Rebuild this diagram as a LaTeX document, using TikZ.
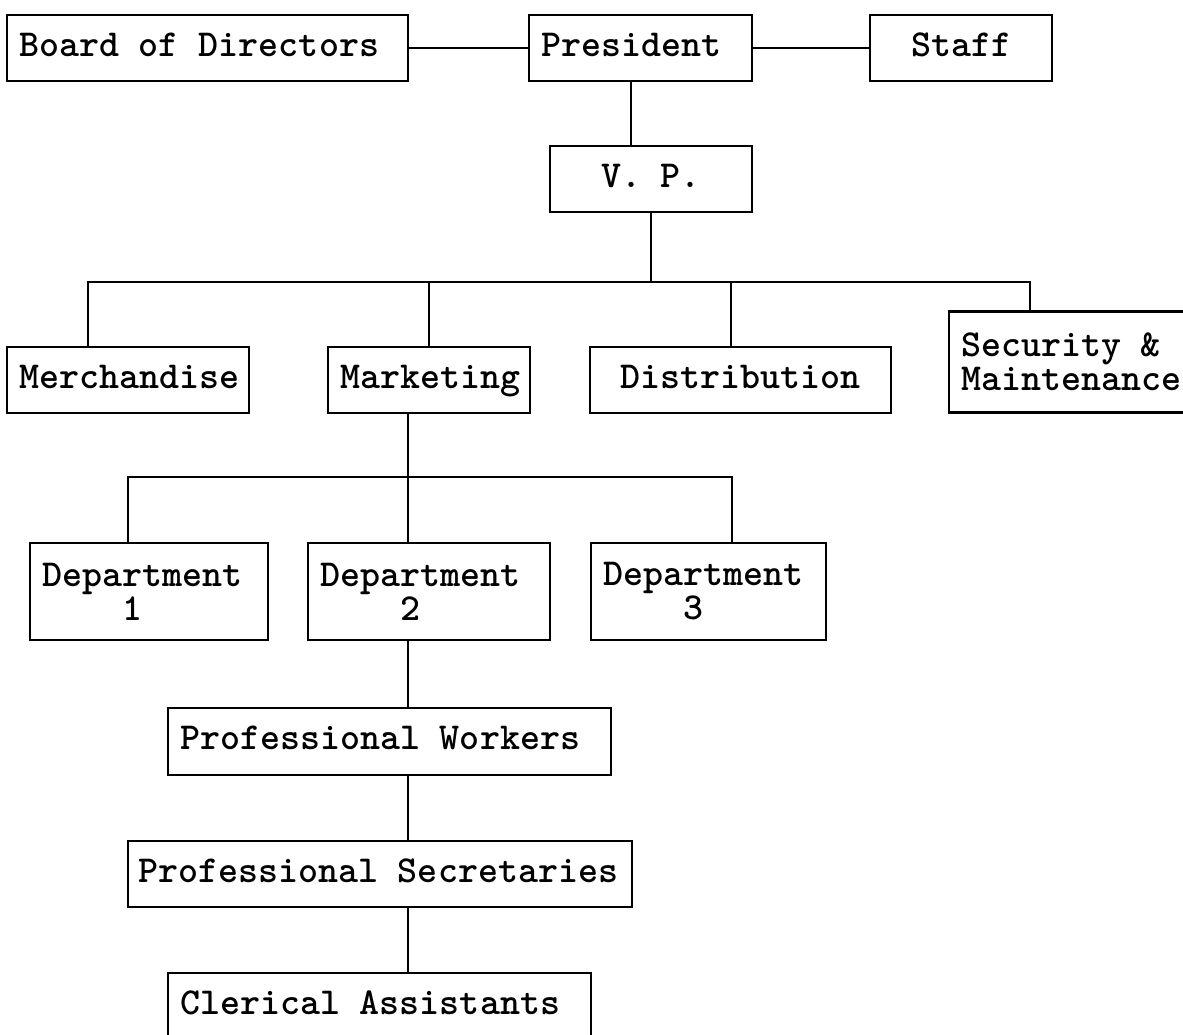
\documentclass[tikz,border=0pt]{standalone}
\usepackage{fontspec}
\newcommand\boxfont{\ttfamily\bfseries\fontsize{19.05}{13}\selectfont\setlength{\spaceskip}{10pt}}
\newcommand\deptfont{\ttfamily\bfseries\fontsize{19.05}{17}\selectfont\setlength{\spaceskip}{10pt}}
\begin{document}
\begin{tikzpicture}[x=0.5pt, y=-0.5pt,
  box/.style={draw, line width=1.2pt, inner xsep=6pt, inner ysep=0pt,
    minimum height=33pt, align=flush left, font=\boxfont},
  onerow/.style={box, text height=11.5pt, text depth=3.5pt},
  deptbox/.style={box, minimum height=48.5pt, font=\deptfont},
  link/.style={line width=1.2pt}]
  % page is 1183 x 1034 px, y runs downwards
  \useasboundingbox (0,0) rectangle (1183,1034);
  \clip (0,0) rectangle (1183,1034);
  % --- top row ---
  \node[onerow, text width=188.5pt] (board) at (207.5,48) {Board of Directors};
  \node[onerow, text width=99.5pt] (pres) at (640.5,48) {President};
  \node[onerow, text width=79pt, align=flush center] (staff) at (961,48) {Staff};
  \node[onerow, text width=89pt, align=flush center] (vp) at (651,179) {V. P.};
  % --- divisions ---
  \node[onerow, text width=109pt] (merch) at (128,380) {Merchandise};
  \node[onerow, text width=89pt] (mark) at (429,380) {Marketing};
  \node[onerow, text width=138.5pt, align=flush center] (dist) at (740.5,380) {Distribution};
  \node[box, text width=118pt, minimum height=50.5pt] (secm) at (1079,362) {Security \&\\Maintenance};
  % --- departments ---
  \node[deptbox, text width=107pt] (d1) at (149,591.5) {Department\\\hspace*{40pt}1};
  \node[deptbox, text width=109pt] (d2) at (429,591.5) {Department\\\hspace*{40pt}2};
  \node[deptbox, text width=105.5pt] (d3) at (708.5,591.5) {Department\\\hspace*{40pt}3};
  % --- staff levels under department 2 ---
  \node[onerow, text width=209.5pt, minimum height=33.5pt] (pw) at (389.5,741.5) {Professional Workers};
  \node[onerow, text width=242pt, inner xsep=5pt] (ps) at (380,874) {Professional Secretaries};
  \node[onerow, text width=199.5pt, minimum height=33.5pt] (ca) at (379.5,1006.5) {Clerical Assistants};
  % tap points of the buses and the spine
  \coordinate (b1w) at (88,282);
  \coordinate (b1e) at (1030,282);
  \coordinate (td) at (731,282);
  \coordinate (b2w) at (128,477);
  \coordinate (b2e) at (732,477);
  \coordinate (spine) at (408,0);
  \coordinate (tp) at (631,0);
  % connectors
  \draw[link] (board.east) -- (pres.west);
  \draw[link] (pres.east) -- (staff.west);
  \draw[link] (tp |- pres.south) -- (tp |- vp.north);
  \draw[link] (vp.south) -- (vp.south |- b1w);
  \draw[link] (b1w |- merch.north) -- (b1w) -- (b1e) -- (b1e |- secm.north);
  \draw[link] (mark.north) -- (mark.north |- b1w);
  \draw[link] (td) -- (td |- dist.north);
  \draw[link] (spine |- mark.south) -- (spine |- d2.north);
  \draw[link] (b2w |- d1.north) -- (b2w) -- (b2e) -- (b2e |- d3.north);
  \draw[link] (spine |- d2.south) -- (spine |- pw.north);
  \draw[link] (spine |- pw.south) -- (spine |- ps.north);
  \draw[link] (spine |- ps.south) -- (spine |- ca.north);
\end{tikzpicture}
\end{document}
